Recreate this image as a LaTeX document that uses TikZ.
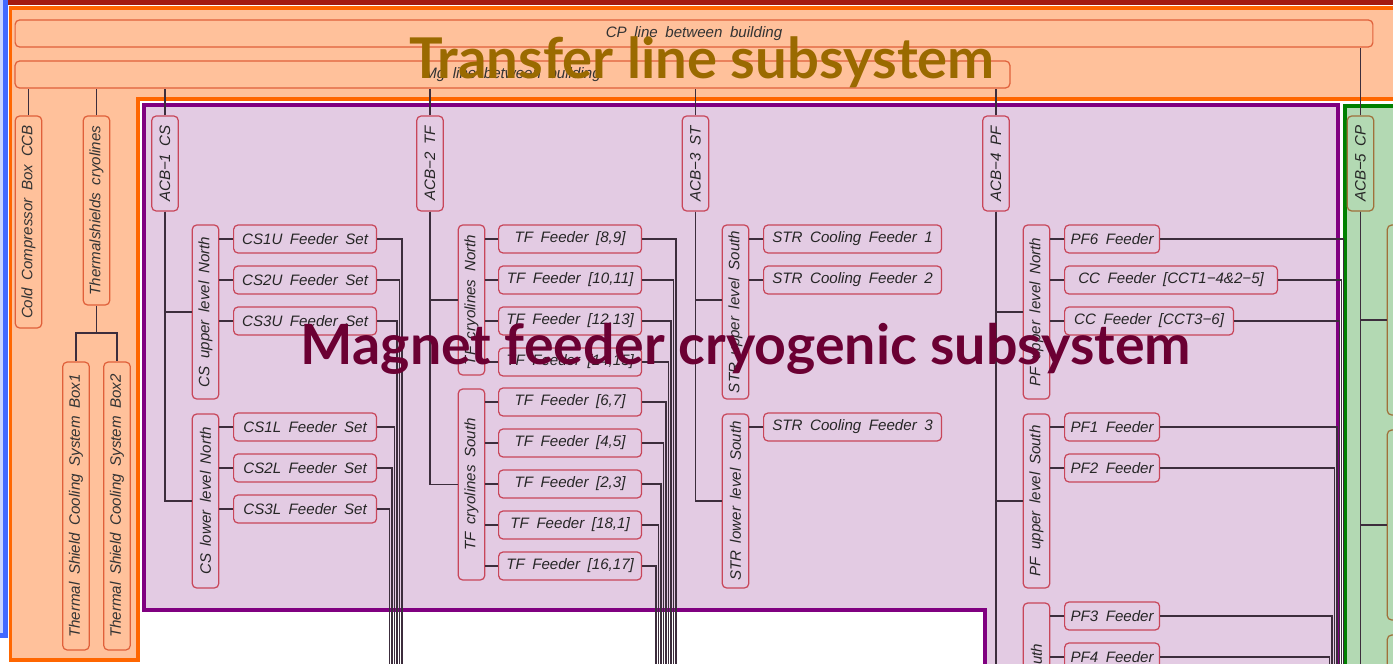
\documentclass[tikz,border=0pt]{standalone}
\usepackage{fontspec}
\setmainfont{Liberation Sans}[WordSpace=1.8]
\newfontfamily\titlefont{Lato}
\usepackage{tikz}

\definecolor{tlfill}{HTML}{FFC19B}
\definecolor{tlframe}{HTML}{FF6600}
\definecolor{tledge}{HTML}{E0603A}
\definecolor{mgfill}{HTML}{E3CBE3}
\definecolor{mgframe}{HTML}{800080}
\definecolor{mgedge}{HTML}{C8465A}
\definecolor{cpfill}{HTML}{B3D9B3}
\definecolor{cpframe}{HTML}{008000}
\definecolor{cpedge}{HTML}{A0703A}
\definecolor{topband}{HTML}{A31A10}
\definecolor{bframe}{HTML}{4169FF}
\definecolor{bfill}{HTML}{C6D4FF}
\definecolor{wirec}{HTML}{3C2D3C}
\definecolor{tltitle}{HTML}{9A6A00}
\definecolor{mgtitle}{HTML}{6B0033}

\begin{document}
\begin{tikzpicture}[
    x=0.02cm, y=-0.02cm,
    font=\fontsize{8.6}{9.5}\selectfont\itshape,
    wire/.style   ={draw=wirec, line width=0.8pt},
    tlbar/.style  ={draw=tledge, fill=tlfill, rounded corners=2.5pt, line width=0.7pt,
                    minimum height=0.54cm, inner sep=1pt, text=black!80},
    tlcol/.style  ={tlbar, rotate=90, minimum height=0.53cm},
    acb/.style    ={draw=mgedge, fill=mgfill, rounded corners=2.5pt, line width=0.7pt, rotate=90,
                    minimum width=1.9cm, minimum height=0.53cm, inner sep=1pt, text=black!85},
    grp/.style    ={acb, minimum width=3.48cm},
    feeder/.style ={draw=mgedge, fill=mgfill, rounded corners=2.5pt, line width=0.7pt, anchor=west,
                    minimum height=0.56cm, inner sep=2pt, text=black!85},
    cpcol/.style  ={acb, draw=cpedge, fill=cpfill, minimum width=3.8cm},
    titel/.style  ={anchor=base, font={\titlefont\bfseries\fontsize{32}{34}\selectfont}}
  ]
  \useasboundingbox (0,0) rectangle (1393,663);
  \clip (0,0) rectangle (1393,663);

  % --- frames ----------------------------------------------------------------
  \fill[white] (0,0) rectangle (1393,663);
  \fill[topband] (-10,-10) rectangle (1410,5);
  \draw[bframe, fill=bfill, line width=0.1cm] (-20,-20) rectangle (5.5,635.5);
  \draw[tlframe, fill=tlfill, line width=0.08cm]
    (10.5,7.5) -- (1410,7.5) -- (1410,98.5) -- (137.5,98.5) -- (137.5,660) -- (10.5,660) -- cycle;
  \draw[white, line width=0.18cm]
    (144,105) -- (1338,105) -- (1338,700) -- (985,700) -- (985,610) -- (144,610) -- cycle;
  \draw[mgframe, fill=mgfill, line width=0.09cm]
    (144,105) -- (1338,105) -- (1338,700) -- (985,700) -- (985,610) -- (144,610) -- cycle;
  \draw[white, line width=0.14cm] (1345,105.5) -- (1410,105.5) -- (1410,700) -- (1345,700) -- cycle;
  \draw[cpframe, fill=cpfill, line width=0.08cm] (1345,105.5) -- (1410,105.5) -- (1410,700) -- (1345,700) -- cycle;

  % --- transfer lines ---------------------------------------------------------
  \node[tlbar, minimum width=27.16cm] (cpline) at (694,33.5) {CP line between building};
  \node[tlbar, minimum width=19.9cm]  (mgline) at (512.5,74.5) {Mg line between building};
  \node[tlcol, minimum width=4.24cm] (ccb)    at (28.5,222)   {Cold Compressor Box CCB};
  \node[tlcol, minimum width=3.78cm] (tscryo) at (96.5,210.5) {Thermalshields cryolines};
  \node[tlcol, minimum width=5.76cm] (tsbox1) at (76,506)     {Thermal Shield Cooling System Box1};
  \node[tlcol, minimum width=5.76cm] (tsbox2) at (117,506)    {Thermal Shield Cooling System Box2};
  \coordinate (tsjoin) at (96.5,333);

  % --- cold boxes ---------------------------------------------------------------
  \node[acb] (acb1) at (165,163.5)   {ACB−1 CS};
  \node[acb] (acb2) at (430,163.5)   {ACB−2 TF};
  \node[acb] (acb3) at (695.5,163.5) {ACB−3 ST};
  \node[acb] (acb4) at (996,163.5)   {ACB−4 PF};
  \node[acb, draw=cpedge, fill=cpfill] (acb5) at (1360.5,163.5) {ACB−5 CP};

  % --- groups -------------------------------------------------------------------
  \node[grp] (csup) at (205.5,312) {CS upper level North};
  \node[grp] (cslo) at (205.5,501) {CS lower level North};
  \node[grp, minimum width=3.0cm]  (tfno) at (471.5,300)   {TF cryolines North};
  \node[grp, minimum width=3.82cm] (tfso) at (471.5,484.5) {TF cryolines South};
  \node[grp] (stup) at (735.5,312) {STR upper level South};
  \node[grp] (stlo) at (735.5,501) {STR lower level South};
  \node[grp] (pfupn) at (1036.5,312) {PF upper level North};
  \node[grp] (pfups) at (1036.5,501) {PF upper level South};
  \node[grp, minimum width=4.6cm] (pflos) at (1036.5,718) {PF lower level South};
  \node[cpcol] (cpg1) at (1400.5,320) {};
  \node[cpcol] (cpg2) at (1400.5,525) {};
  \node[cpcol] (cpg3) at (1400.5,730) {};

  % --- feeders ------------------------------------------------------------------
  \node[feeder, minimum width=2.86cm] (cs1u) at (233,239) {CS1U Feeder Set};
  \node[feeder, minimum width=2.86cm] (cs2u) at (233,280) {CS2U Feeder Set};
  \node[feeder, minimum width=2.86cm] (cs3u) at (233,321) {CS3U Feeder Set};
  \node[feeder, minimum width=2.86cm] (cs1l) at (233,427) {CS1L Feeder Set};
  \node[feeder, minimum width=2.86cm] (cs2l) at (233,468) {CS2L Feeder Set};
  \node[feeder, minimum width=2.86cm] (cs3l) at (233,509) {CS3L Feeder Set};

  \node[feeder, minimum width=2.86cm] (tf89)   at (498,239) {TF Feeder [8,9]};
  \node[feeder, minimum width=2.86cm] (tf1011) at (498,280) {TF Feeder [10,11]};
  \node[feeder, minimum width=2.86cm] (tf1213) at (498,321) {TF Feeder [12,13]};
  \node[feeder, minimum width=2.86cm] (tf1415) at (498,362) {TF Feeder [14,15]};
  \node[feeder, minimum width=2.86cm] (tf67)   at (498,402) {TF Feeder [6,7]};
  \node[feeder, minimum width=2.86cm] (tf45)   at (498,443) {TF Feeder [4,5]};
  \node[feeder, minimum width=2.86cm] (tf23)   at (498,484) {TF Feeder [2,3]};
  \node[feeder, minimum width=2.86cm] (tf181)  at (498,525) {TF Feeder [18,1]};
  \node[feeder, minimum width=2.86cm] (tf1617) at (498,566) {TF Feeder [16,17]};

  \node[feeder, minimum width=3.56cm] (str1) at (763,239) {STR Cooling Feeder 1};
  \node[feeder, minimum width=3.56cm] (str2) at (763,280) {STR Cooling Feeder 2};
  \node[feeder, minimum width=3.56cm] (str3) at (763,427) {STR Cooling Feeder 3};

  \node[feeder, minimum width=1.9cm]  (pf6)  at (1064,239) {PF6 Feeder};
  \node[feeder, minimum width=4.26cm] (cc1)  at (1064,280) {CC Feeder [CCT1−4\&2−5]};
  \node[feeder, minimum width=3.38cm] (cc3)  at (1064,321) {CC Feeder [CCT3−6]};
  \node[feeder, minimum width=1.9cm]  (pf1)  at (1064,427) {PF1 Feeder};
  \node[feeder, minimum width=1.9cm]  (pf2)  at (1064,468) {PF2 Feeder};
  \node[feeder, minimum width=1.9cm]  (pf3)  at (1064,616) {PF3 Feeder};
  \node[feeder, minimum width=1.9cm]  (pf4)  at (1064,657) {PF4 Feeder};

  % --- connections --------------------------------------------------------------
  \draw[wire] (acb5.east) -- (acb5.east |- cpline.south);
  \foreach \a in {ccb,tscryo,acb1,acb2,acb3,acb4} \draw[wire] (\a.east) -- (\a.east |- mgline.south);
  \draw[wire] (tscryo.west) -- (tsjoin);
  \draw[wire] (tsbox1.east) |- (tsjoin) -| (tsbox2.east);

  \foreach \g in {csup,cslo} \draw[wire] (acb1.west) |- (\g.north);
  \foreach \g in {tfno,tfso} \draw[wire] (acb2.west) |- (\g.north);
  \draw[wire] (acb3.west) |- (stup.north |- 0,300);
  \draw[wire] (acb3.west) |- (stlo.north);
  \foreach \g in {pfupn,pfups,pflos} \draw[wire] (acb4.west) |- (\g.north);
  \foreach \g in {cpg1,cpg2,cpg3} \draw[wire] (acb5.west) |- (\g.north);

  \foreach \f in {cs1u,cs2u,cs3u} \draw[wire] (\f.west) -- (\f.west -| csup.south);
  \foreach \f in {cs1l,cs2l,cs3l} \draw[wire] (\f.west) -- (\f.west -| cslo.south);
  \foreach \f in {tf89,tf1011,tf1213,tf1415} \draw[wire] (\f.west) -- (\f.west -| tfno.south);
  \foreach \f in {tf67,tf45,tf23,tf181,tf1617} \draw[wire] (\f.west) -- (\f.west -| tfso.south);
  \foreach \f in {str1,str2} \draw[wire] (\f.west) -- (\f.west -| stup.south);
  \draw[wire] (str3.west) -- (str3.west -| stlo.south);
  \foreach \f in {pf6,cc1,cc3} \draw[wire] (\f.west) -- (\f.west -| pfupn.south);
  \foreach \f in {pf1,pf2} \draw[wire] (\f.west) -- (\f.west -| pfups.south);
  \foreach \f in {pf3,pf4} \draw[wire] (\f.west) -- (\f.west -| pflos.south);

  % feeder lines running down
  \foreach \f/\x in {cs1u/402,cs2u/399.5,cs3u/397,cs1l/394.5,cs2l/392,cs3l/389.5,
                     tf89/676,tf1011/673.5,tf1213/671,tf1415/668.5,tf67/666,tf45/663.5,
                     tf23/661,tf181/658.5,tf1617/656,
                     pf6/1343.5,cc1/1341.5,cc3/1339.5,pf1/1337,pf2/1334.5,pf3/1332,pf4/1329.5}
    {\coordinate (\f-out) at (\x,700);
     \draw[wire] (\f.east) -| (\f-out);}

  % --- titles -------------------------------------------------------------------
  \node[titel, text=tltitle] (tltext) at (702,78)  {Transfer line subsystem};
  \node[titel, text=mgtitle, font={\titlefont\bfseries\fontsize{31.6}{34}\selectfont}]
    (mgtext) at (746,364) {Magnet feeder cryogenic subsystem};

\end{tikzpicture}
\end{document}
